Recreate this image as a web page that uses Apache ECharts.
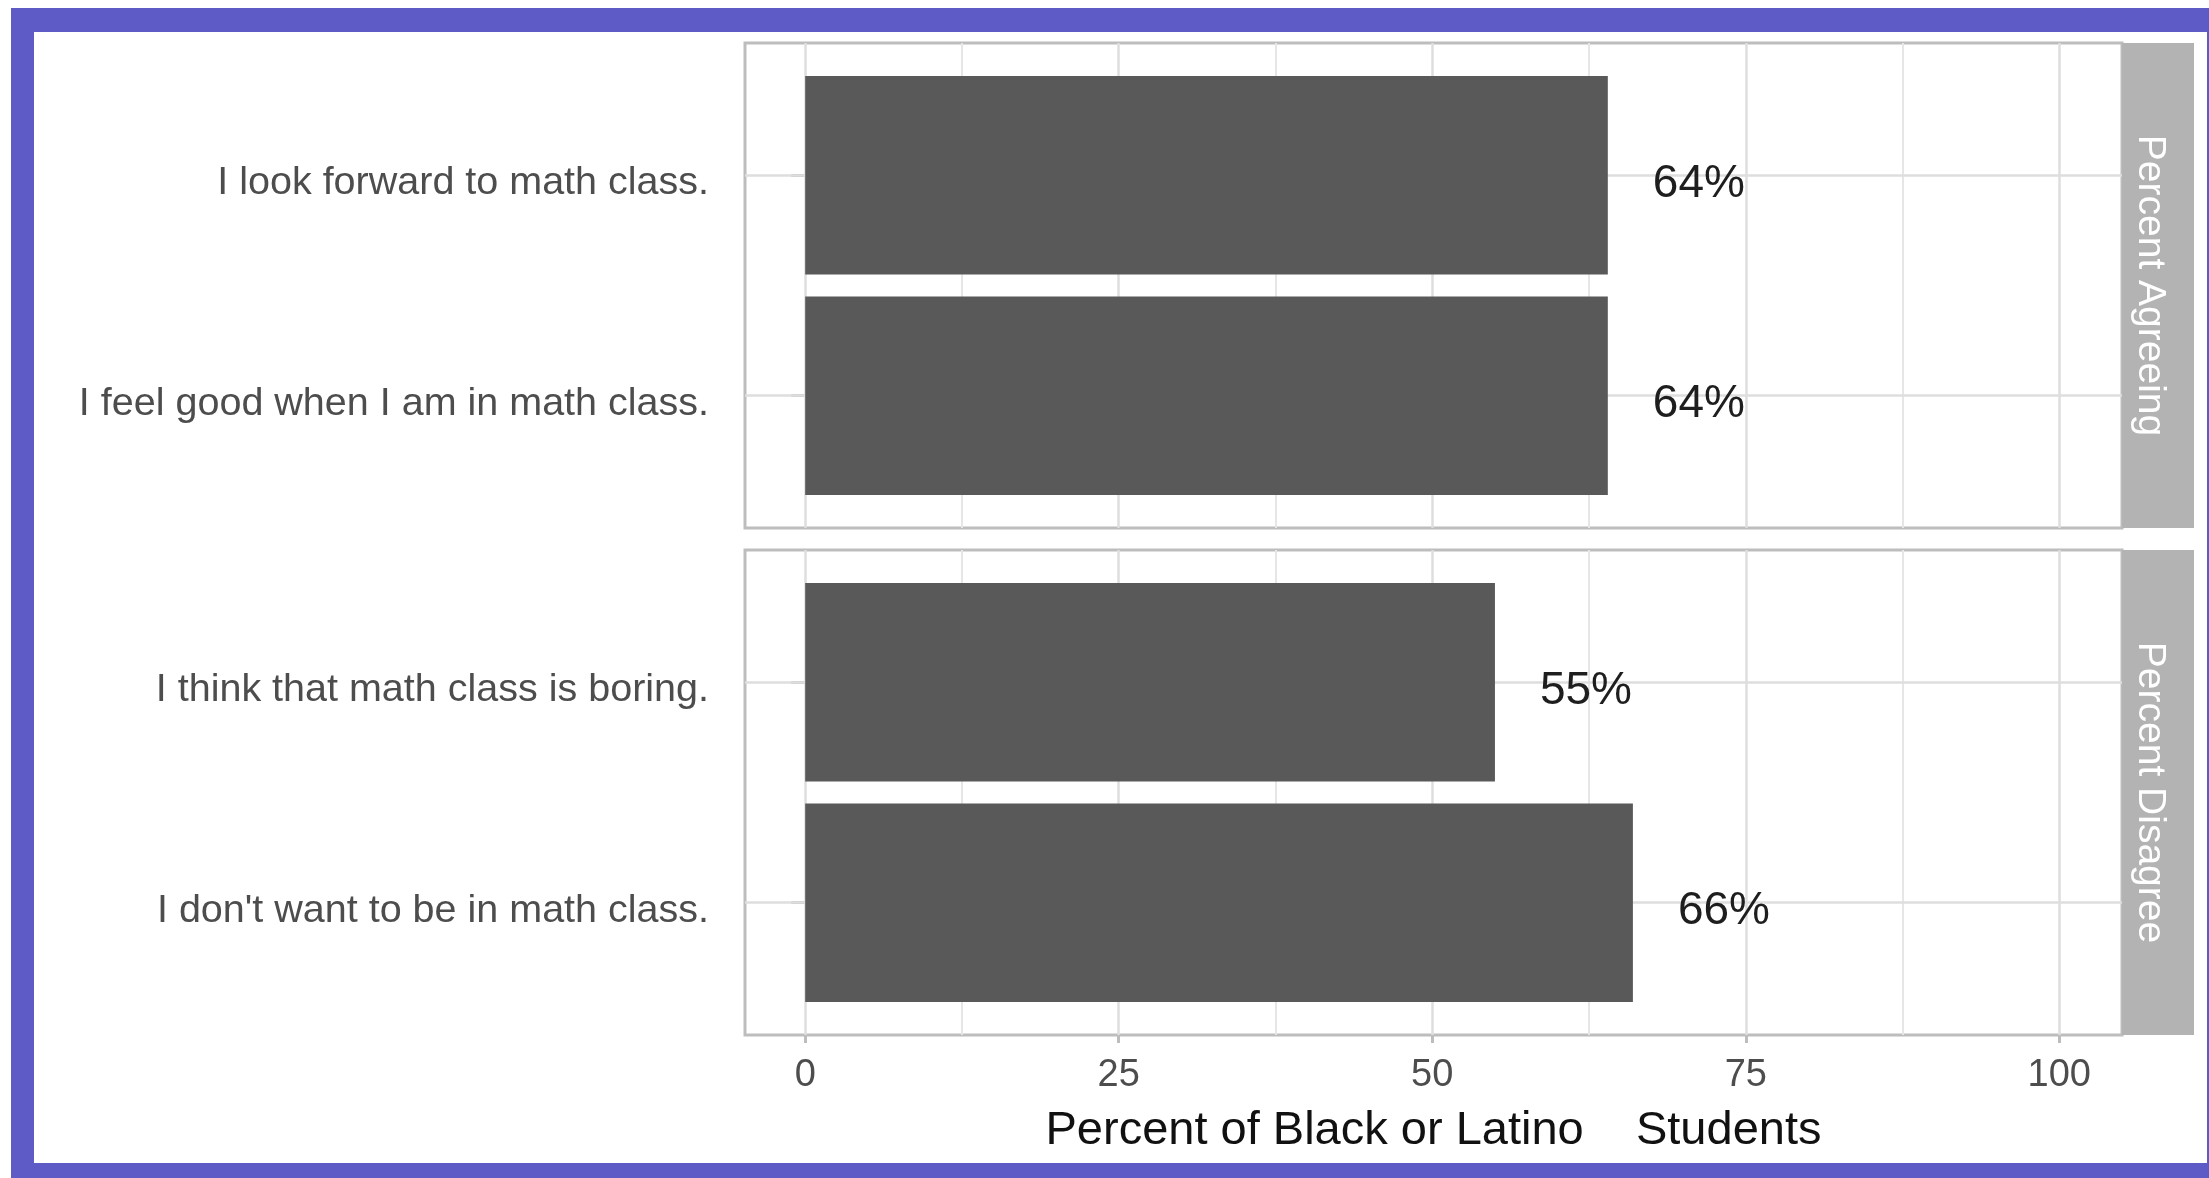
<!DOCTYPE html>
<html>
<head>
<meta charset="utf-8">
<script src="https://cdn.jsdelivr.net/npm/echarts@6/dist/echarts.min.js"></script>
<style>
  html, body { margin: 0; padding: 0; background: #ffffff; width: 2209px; height: 1178px; overflow: hidden; }
  #frame { position: absolute; left: 11px; top: 8px; width: 2198px; height: 1170px; background: #5e5bc6; }
  #inner { position: absolute; left: 34px; top: 32px; width: 2173px; height: 1131px; background: #ffffff; }
  #chart { position: absolute; left: 0; top: 0; width: 2209px; height: 1178px; }
</style>
</head>
<body>
<div id="frame"></div>
<div id="inner"></div>
<div id="chart"></div>
<script>
// ---- data ----
const categoriesAgree = ["I look forward to math class.", "I feel good when I am in math class."];
const valuesAgree = [64, 64];
const categoriesDisagree = ["I think that math class is boring.", "I don't want to be in math class."];
const valuesDisagree = [55, 66];
const facetLabels = ["Percent Agreeing", "Percent Disagree"];
const xTicks = [0, 25, 50, 75, 100];
const xMinorTicks = [12.5, 37.5, 62.5, 87.5];
const xTitle = "Percent of Black or Latino{m|/a} Students";

// ---- layout ----
const FONT = "'Liberation Sans', Arial, sans-serif";
const L = 745, W = 1377, PH = 485;
const XMIN = -4.8, XMAX = 105;
const panelTops = [43, 550];
const pad = PH / 2.2 * 0.1;
const labelShift = 8;
const gridColor = '#dedede';

const grids = [];
const xAxes = [];
const yAxes = [];
const series = [];

function addPanel(p, cats, vals) {
  const top = panelTops[p];
  const gFull = grids.length;
  grids.push({ left: L, top: top, width: W, height: PH, show: true, backgroundColor: '#fff', borderColor: '#bdbdbd', borderWidth: 3, containLabel: false });
  const gBand = grids.length;
  grids.push({ left: L, top: top + pad, width: W, height: PH - 2 * pad, show: false, containLabel: false });
  const gLab = grids.length;
  grids.push({ left: L, top: top + pad + labelShift, width: W, height: PH - 2 * pad, show: false, containLabel: false });

  const isBottom = p === panelTops.length - 1;
  xAxes.push(isBottom ? {
    gridIndex: gFull, type: 'value', min: XMIN, max: XMAX,
    axisLine: { show: false },
    splitLine: { show: false },
    axisTick: { show: true, customValues: xTicks, length: 8, lineStyle: { color: '#bdbdbd', width: 3 } },
    axisLabel: { show: true, customValues: xTicks, fontSize: 38, color: '#4d4d4d', fontFamily: FONT, margin: 22 },
    name: xTitle, nameLocation: 'middle', nameGap: 73,
    nameTextStyle: { fontSize: 47, color: '#111', fontFamily: FONT, rich: { m: { color: '#ffffff', fontSize: 47, fontFamily: FONT } } }
  } : { gridIndex: gFull, type: 'value', min: XMIN, max: XMAX, show: false });
  const xFull = xAxes.length - 1;
  xAxes.push({ gridIndex: gBand, type: 'value', min: XMIN, max: XMAX, show: false });
  const xBand = xAxes.length - 1;
  xAxes.push({ gridIndex: gLab, type: 'value', min: XMIN, max: XMAX, show: false });

  yAxes.push({ gridIndex: gFull, type: 'value', min: 0, max: 1, show: false });
  const yFull = yAxes.length - 1;
  yAxes.push({
    gridIndex: gBand, type: 'category', data: cats, inverse: true,
    axisLine: { show: false },
    axisTick: { show: true, length: 14, alignWithLabel: true, lineStyle: { color: '#bdbdbd', width: 3 } },
    axisLabel: { show: false },
    splitLine: { show: false }
  });
  const yBand = yAxes.length - 1;
  yAxes.push({
    gridIndex: gLab, type: 'category', data: cats, inverse: true,
    axisLine: { show: false }, axisTick: { show: false }, splitLine: { show: false },
    axisLabel: { fontSize: 39.5, color: '#4d4d4d', fontFamily: FONT, margin: 36 }
  });

  // vertical gridlines (major + minor)
  series.push({
    type: 'scatter', xAxisIndex: xFull, yAxisIndex: yFull, data: [[0, -10]], symbolSize: 0, silent: true, z: 1,
    markLine: {
      z: 1, silent: true, symbol: 'none', label: { show: false }, animation: false,
      data: xTicks.map(v => ({ xAxis: v, lineStyle: { color: gridColor, width: 2.5, type: 'solid' } }))
        .concat(xMinorTicks.map(v => ({ xAxis: v, lineStyle: { color: '#e6e6e6', width: 2, type: 'solid' } })))
    }
  });
  // horizontal gridlines at categories
  series.push({
    type: 'scatter', xAxisIndex: xBand, yAxisIndex: yBand, data: [], symbolSize: 0, silent: true, z: 1,
    markLine: {
      z: 1, silent: true, symbol: 'none', label: { show: false }, animation: false,
      data: cats.map(c => ({ yAxis: c, lineStyle: { color: gridColor, width: 2.5, type: 'solid' } }))
    }
  });
  // bars
  series.push({
    type: 'bar', xAxisIndex: xBand, yAxisIndex: yBand, data: vals, barWidth: '90%', z: 3,
    itemStyle: { color: '#595959' },
    label: { show: true, position: 'right', distance: 45, offset: [0, 9], formatter: '{c}%', fontSize: 46, color: '#1e1e1e', fontFamily: FONT }
  });
}

addPanel(0, categoriesAgree, valuesAgree);
addPanel(1, categoriesDisagree, valuesDisagree);

const stripX = L + W, stripW = 72;
const graphics = [];
facetLabels.forEach((t, i) => {
  graphics.push({ type: 'rect', shape: { x: stripX, y: panelTops[i], width: stripW, height: PH }, style: { fill: '#b3b3b3' }, z: 0 });
  graphics.push({
    type: 'text', x: stripX + stripW / 2 - 8, y: panelTops[i] + PH / 2, rotation: -Math.PI / 2, z: 1,
    style: { text: t, fill: '#ffffff', font: '39px ' + FONT, align: 'center', verticalAlign: 'middle' }
  });
});

const chart = echarts.init(document.getElementById('chart'));
chart.setOption({
  animation: false,
  grid: grids,
  xAxis: xAxes,
  yAxis: yAxes,
  series: series,
  graphic: graphics
});
</script>
</body>
</html>
